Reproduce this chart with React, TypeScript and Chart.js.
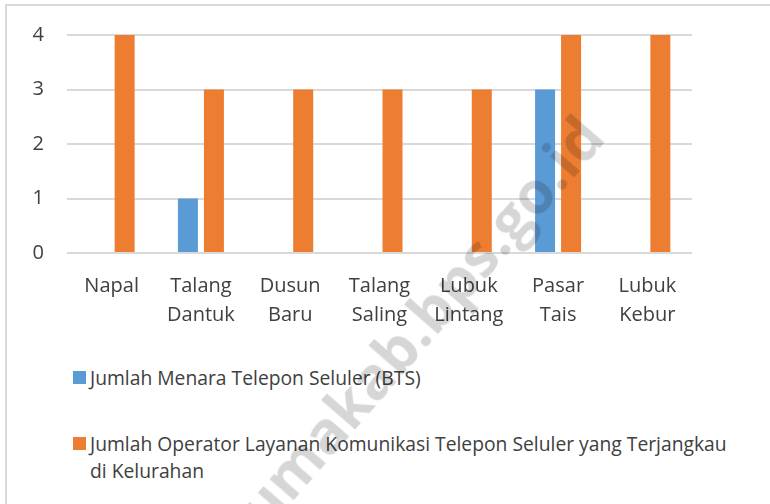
import React, { useEffect, useRef } from "react";
import { Chart, registerables } from "chart.js";

Chart.register(...registerables);

const categories = [
  "Napal",
  "Talang Dantuk",
  "Dusun Baru",
  "Talang Saling",
  "Lubuk Lintang",
  "Pasar Tais",
  "Lubuk Kebur",
];
const seriesNames = [
  "Jumlah Menara Telepon Seluler (BTS)",
  "Jumlah Operator Layanan Komunikasi Telepon Seluler yang Terjangkau di Kelurahan",
];
const btsValues = [0, 1, 0, 0, 0, 3, 0];
const operatorValues = [4, 3, 3, 3, 3, 4, 4];
const seriesColors = ["#5B9BD5", "#ED7D31"];
const yMin = 0;
const yMax = 4;
const yStep = 1;
const watermarkText = "selumakab.bps.go.id";

const FONT = "'Open Sans', 'DejaVu Sans', sans-serif";
const TEXT_COLOR = "#404040";
const GRID_COLOR = "#d9d9d9";

export default function App() {
  const ref = useRef<HTMLCanvasElement | null>(null);

  useEffect(() => {
    document.body.style.margin = "0";
    const canvas = ref.current;
    if (!canvas) return;
    const chart = new Chart(canvas, {
      type: "bar",
      data: {
        labels: categories.map((c) => c.split(" ")),
        datasets: [
          {
            label: seriesNames[0],
            data: btsValues,
            backgroundColor: seriesColors[0],
            borderWidth: 0,
            categoryPercentage: 0.5824,
            barPercentage: 0.769,
          },
          {
            label: seriesNames[1],
            data: operatorValues,
            backgroundColor: seriesColors[1],
            borderWidth: 0,
            categoryPercentage: 0.5824,
            barPercentage: 0.769,
          },
        ],
      },
      options: {
        responsive: false,
        animation: false,
        devicePixelRatio: 1,
        layout: { padding: { top: 34, right: 78, left: 0, bottom: 0 } },
        plugins: {
          legend: { display: false },
          tooltip: { enabled: false },
        },
        scales: {
          x: {
            grid: { display: false },
            border: { display: false },
            ticks: {
              font: { family: FONT, size: 20, lineHeight: 1.45 },
              color: TEXT_COLOR,
              padding: 11,
              maxRotation: 0,
              minRotation: 0,
              autoSkip: false,
            },
            afterFit: (s: any) => {
              s.height = 97;
            },
          },
          y: {
            min: yMin,
            max: yMax,
            ticks: {
              stepSize: yStep,
              padding: 23,
              font: { family: FONT, size: 20 },
              color: TEXT_COLOR,
            },
            grid: { color: GRID_COLOR, lineWidth: 2, drawTicks: false },
            border: { display: false },
            afterFit: (s: any) => {
              s.width = 67;
            },
          },
        },
      },
    });
    return () => chart.destroy();
  }, []);

  return (
    <div
      style={{
        position: "relative",
        width: 770,
        height: 504,
        overflow: "hidden",
        background: "#fff",
        fontFamily: FONT,
      }}
    >
      <div
        style={{
          position: "absolute",
          left: 5,
          top: 4,
          width: 900,
          height: 700,
          border: `2px solid ${GRID_COLOR}`,
          boxSizing: "border-box",
        }}
      />
      <canvas
        ref={ref}
        width={770}
        height={350}
        style={{ position: "absolute", left: 0, top: 0, width: 770, height: 350 }}
      />
      {seriesNames.map((name, i) => {
        const top = i === 0 ? 364 : 430;
        const words = name.split(" ");
        const lastTwo = words.slice(-2).join("\u00a0");
        const text = [...words.slice(0, -2), lastTwo].join(" ");
        return (
          <div
            key={name}
            style={{
              position: "absolute",
              left: 73,
              top,
              width: 680,
              display: "flex",
              alignItems: "flex-start",
            }}
          >
            <div
              style={{
                width: 13,
                height: 13,
                marginTop: 7,
                background: seriesColors[i],
                flex: "0 0 auto",
              }}
            />
            <div
              style={{
                marginLeft: 4,
                fontSize: 19.3,
                lineHeight: "27px",
                color: TEXT_COLOR,
              }}
            >
              {text}
            </div>
          </div>
        );
      })}
      <div
        style={{
          position: "absolute",
          left: 392,
          top: 352,
          transform: "translate(-50%, -50%) rotate(-49deg)",
          fontSize: 59,
          fontWeight: 700,
          whiteSpace: "nowrap",
          color: "rgba(0,0,0,0.16)",
          pointerEvents: "none",
          fontFamily: "'Open Sans', sans-serif",
        }}
      >
        {watermarkText}
      </div>
    </div>
  );
}
